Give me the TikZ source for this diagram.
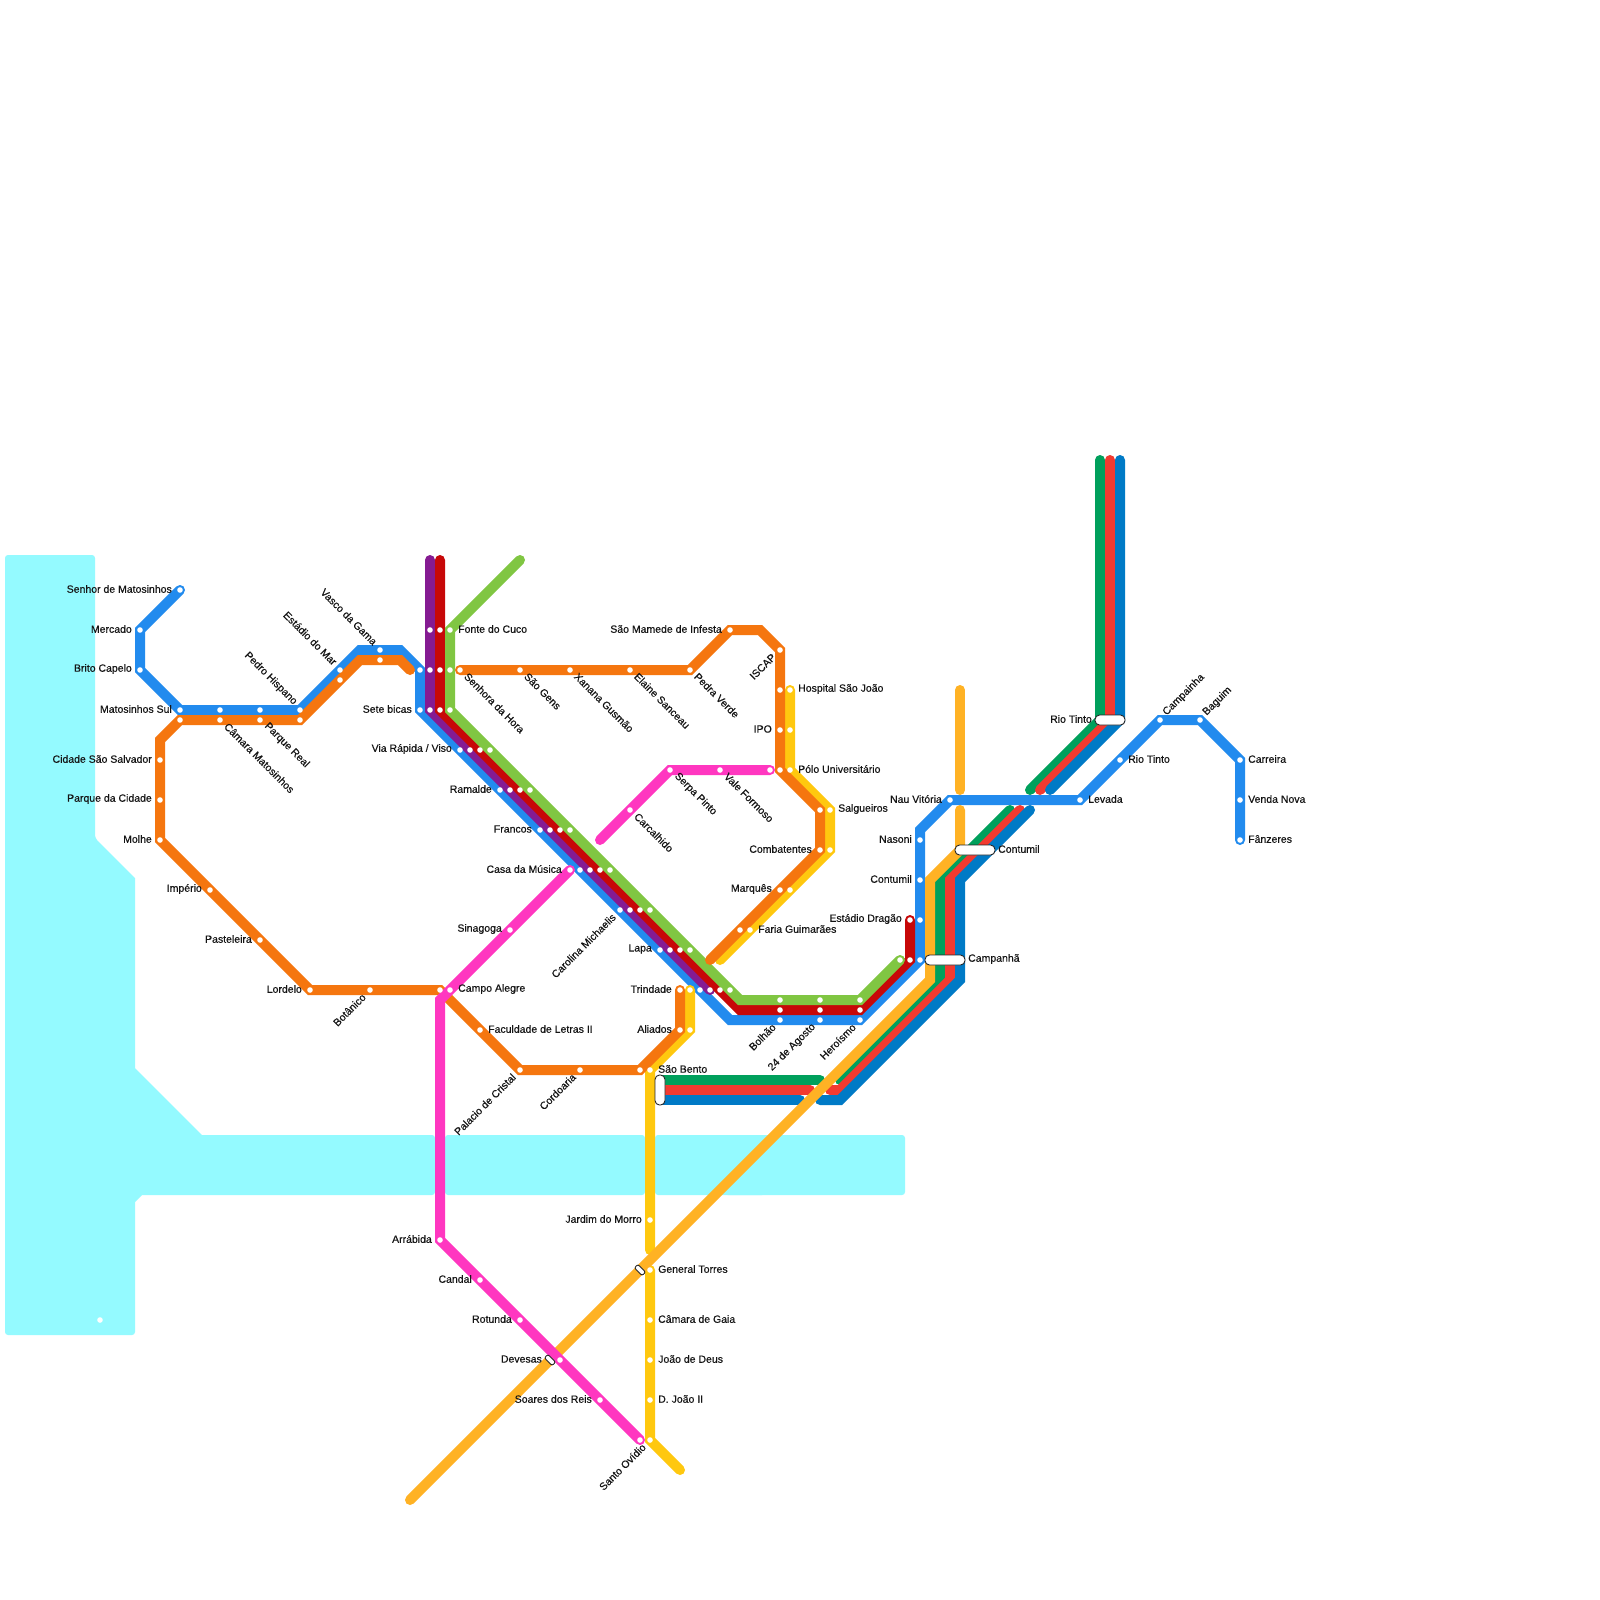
\documentclass[tikz,border=0pt]{standalone}
\usepackage{fontspec}
\setmainfont[FakeBold=0.4]{Liberation Sans}
\definecolor{cW}{HTML}{94FAFF}
\definecolor{cB}{HTML}{228BEE}
\definecolor{cO}{HTML}{F5760F}
\definecolor{cP}{HTML}{851B92}
\definecolor{cR}{HTML}{C70808}
\definecolor{cG}{HTML}{80C642}
\definecolor{cK}{HTML}{FF37C0}
\definecolor{cY}{HTML}{FFC80F}
\definecolor{cA}{HTML}{FFB224}
\definecolor{cDG}{HTML}{00A05C}
\definecolor{cDR}{HTML}{F33A30}
\definecolor{cDB}{HTML}{007AC6}
\tikzset{
  ln/.style={line width=10pt,line cap=round,line join=miter,miter limit=4},
  dot/.style={circle,fill=white,draw=none,inner sep=0pt,minimum size=5.6pt},
  lbl/.style={inner sep=0pt,font=\fontsize{10.5}{12}\selectfont,text=black!92},
  lL/.style={lbl,anchor=east,xshift=-8pt,yshift=1pt},
  lR/.style={lbl,anchor=west,xshift=8pt,yshift=1pt},
  lUL/.style={lbl,anchor=east,rotate=-45,xshift=-8pt,yshift=1.5pt},
  lDR/.style={lbl,anchor=west,rotate=-45,xshift=7.5pt,yshift=1pt},
  lDL/.style={lbl,anchor=east,rotate=45,xshift=-8pt,yshift=0.5pt},
  lUR/.style={lbl,anchor=west,rotate=45,xshift=7.5pt,yshift=1pt},
  caps/.style={draw=black!85,fill=white,line width=0.9pt,rectangle,inner sep=0pt,rounded corners=4.5pt},
  capsm/.style={draw=black!85,fill=white,line width=0.9pt,rectangle,inner sep=0pt,rounded corners=2pt,minimum width=11pt,minimum height=5pt,rotate=-45},
  water/.style={fill=cW,rounded corners=3pt}
}
\begin{document}
\begin{tikzpicture}[x=1pt,y=-1pt]
\useasboundingbox (0,0) rectangle (1600,1600);
\fill[white] (0,0) rectangle (1600,1600);
% water
\fill[water] (5,555) -- (95,555) -- (95,838) [sharp corners] -- (135,878) -- (135,1068) -- (202,1135) [rounded corners=3pt] -- (435,1135) -- (435,1195) [sharp corners] -- (142,1195) -- (135,1202) [rounded corners=3pt] -- (135,1335) -- (5,1335) -- cycle;
\fill[water] (445,1135) rectangle (645,1195);
\fill[water] (655,1135) rectangle (765,1195);
\fill[water] (725,1135) rectangle (905,1195);
% coordinates
\foreach \n/\x/\y in {
 bsen/180/590,bmer/140/630,bbri/140/670,bmat/180/710,bm2/220/710,bm3/260/710,bped/300/710,bmar/340/670,bk1/360/650,bvas/380/650,bk2/400/650,bu/420/670,bset/420/710,bvia/460/750,bram/500/790,bfra/540/830,bcas/580/870,bcar/620/910,blap/660/950,btri/700/990,bk3/730/1020,bbol/780/1020,bago/820/1020,bher/860/1020,bcam/920/960,bdra/920/920,bcon/920/880,bnas/920/840,bk4/920/830,bnau/950/800,blev/1080/800,brio/1120/760,bcpa/1160/720,bbag/1200/720,bcre/1240/760,bven/1240/800,bfan/1240/840,
 pt/430/560,pa/430/630,pb/430/670,pc/430/710,pd/470/750,pe/510/790,pf/550/830,pg/590/870,ph/630/910,pi/670/950,pj/710/990,
 rt/440/560,ra/440/630,rb/440/670,rc/440/710,rd/480/750,re/520/790,rf/560/830,rg/600/870,rh/640/910,ri/680/950,rj/720/990,rk/740/1010,rl/780/1010,rm/820/1010,rn/860/1010,ro/910/960,rq/910/920,
 gt/520/560,ga/450/630,gb/450/670,gc/450/710,gd/490/750,ge/530/790,gf/570/830,gg/610/870,gh/650/910,gi/690/950,gj/730/990,gk/740/1000,gl/780/1000,gm/820/1000,gn/860/1000,go/900/960,
 osk/410/670,ok2/400/660,ovas/380/660,ok1/360/660,omar/340/680,oped/300/720,om3/260/720,om2/220/720,omat/180/720,ok0/160/740,ocid/160/760,opar/160/800,omol/160/840,oimp/210/890,opas/260/940,olor/310/990,obot/370/990,ocam/440/990,ofac/480/1030,opal/520/1070,ocor/580/1070,oben/640/1070,oali/680/1030,otri/680/990,
 qsen/460/670,qgen/520/670,qxan/570/670,qela/630/670,qped/690/670,qmam/730/630,qk1/760/630,qisc/780/650,qa/780/690,qipo/780/730,qpol/780/770,qsal/820/810,qcom/820/850,qmar/780/890,qfar/740/930,qend/710/960,
 yhos/790/690,yipo/790/730,ypol/790/770,ysal/830/810,ycom/830/850,ymar/790/890,yfar/750/930,yend/720/960,
 ztri/690/990,zali/690/1030,zben/650/1070,zjar/650/1220,zst/650/1250,zgen/650/1270,zcam/650/1320,zjoa/650/1360,zdjo/650/1400,zovi/650/1440,zend/680/1470,
 kcam/450/990,ksin/510/930,kcas/570/870,kk/440/1000,karr/440/1240,kcan/480/1280,krot/520/1320,kdev/560/1360,ksoa/600/1400,kovi/640/1440,
 vend/600/840,vcar/630/810,vser/670/770,vval/720/770,vlast/770/770,
 as/410/1500,ak1/930/980,ak2/930/880,ak3/960/850,ak4/960/810,at1/960/690,at2/960/790,
 dgt/1100/460,dgk/1100/720,dge/1030/790,dgs/1010/810,dga/940/880,dgb/940/980,dgc/840/1080,dgl1/820/1080,dgl0/660/1080,
 drt/1110/460,drk/1110/720,dre/1040/790,drs/1020/810,dra/950/880,drb/950/980,drc/840/1090,drd/830/1090,drl1/810/1090,drl0/660/1090,
 dbt/1120/460,dbk/1120/720,dbe/1050/790,dbs/1030/810,dba/960/880,dbb/960/980,dbc/840/1100,dbd/820/1100,dbl1/800/1100,dbl0/660/1100,
 stray/100/1320,
 tcon/990/850,tcam/960/960,trio/1100/720,tben/650/1070,tgen/640/1270,tdev/550/1360}
 {\coordinate (\n) at (\x,\y);}
% lines
\draw[ln,cB] (bsen)--(bmer)--(bbri)--(bmat)--(bped)--(bk1)--(bk2)--(bu)--(bset)--(btri)--(bk3)--(bher)--(bcam)--(bk4)--(bnau)--(blev)--(bcpa)--(bbag)--(bcre)--(bfan);
\draw[ln,cP] (pt)--(pc)--(pj);
\draw[ln,cR] (rt)--(rc)--(rk)--(rn)--(ro)--(rq);
\draw[ln,cG] (gt)--(ga)--(gc)--(gk)--(gn)--(go);
\draw[ln,cDG] (dgt)--(dgk)--(dge);
\draw[ln,cDG] (dgs)--(dga)--(dgb)--(dgc);
\draw[ln,cDG] (dgl0)--(dgl1);
\draw[ln,cDR] (drt)--(drk)--(dre);
\draw[ln,cDR] (drs)--(dra)--(drb)--(drc)--(drd);
\draw[ln,cDR] (drl0)--(drl1);
\draw[ln,cDB] (dbt)--(dbk)--(dbe);
\draw[ln,cDB] (dbs)--(dba)--(dbb)--(dbc)--(dbd);
\draw[ln,cDB] (dbl0)--(dbl1);
\draw[ln,cY] (yhos)--(ypol)--(ysal)--(ycom)--(yend);
\draw[ln,cY] (ztri)--(zali)--(zben)--(zst);
\draw[ln,cY] (zgen)--(zovi)--(zend);
\draw[ln,cA] (as)--(ak1)--(ak2)--(ak3)--(ak4);
\draw[ln,cA] (at1)--(at2);
\draw[ln,cO] (osk)--(ok2)--(ok1)--(oped)--(omat)--(ok0)--(omol)--(olor)--(ocam)--(opal)--(oben)--(oali)--(otri);
\draw[ln,cO] (qsen)--(qped)--(qmam)--(qk1)--(qisc)--(qpol)--(qsal)--(qcom)--(qend);
\draw[ln,cK] (kcas)--(kcam)--(kk)--(karr)--(kovi);
\draw[ln,cK] (vend)--(vser)--(vlast);
% interchanges
\node[caps,minimum width=10pt,minimum height=30pt] (xben) at (660,1090) {};
\node[caps,minimum width=40pt,minimum height=10pt] (xcam) at (945,960) {};
\node[caps,minimum width=40pt,minimum height=10pt] (xcon) at (975,850) {};
\node[caps,minimum width=30pt,minimum height=10pt] (xrio) at (1110,720) {};
\node[capsm] (xgen) at (tgen) {};
\node[capsm] (xdev) at (tdev) {};
% station dots
\foreach \n in {bsen,bmer,bbri,bmat,bm2,bm3,bped,bmar,bvas,bu,bset,bvia,bram,bfra,bcas,bcar,blap,btri,bbol,bago,bher,bcam,bdra,bcon,bnas,bnau,blev,brio,bcpa,bbag,bcre,bven,bfan,
 pa,pb,pc,pd,pe,pf,pg,ph,pi,pj,ra,rb,rc,rd,re,rf,rg,rh,ri,rj,rl,rm,rn,ro,rq,ga,gb,gc,gd,ge,gf,gg,gh,gi,gj,gl,gm,gn,go,
 ovas,omar,oped,om3,om2,omat,ocid,opar,omol,oimp,opas,olor,obot,ocam,ofac,opal,ocor,oben,oali,otri,
 qsen,qgen,qxan,qela,qped,qmam,qisc,qa,qipo,qpol,qsal,qcom,qmar,qfar,
 yhos,yipo,ypol,ysal,ycom,ymar,yfar,ztri,zali,zben,zjar,zgen,zcam,zjoa,zdjo,zovi,
 kcam,ksin,kcas,karr,kcan,krot,kdev,ksoa,kovi,vcar,vser,vval,vlast,stray}
 {\node[dot] (s\n) at (\n) {};}
% labels
\foreach \n/\t in {bsen/Senhor de Matosinhos,bmer/Mercado,bbri/Brito Capelo,bmat/Matosinhos Sul,bset/Sete bicas,bvia/Via Rápida {/} Viso,bram/Ramalde,bfra/Francos,kcas/Casa da Música,blap/Lapa,otri/Trindade,oali/Aliados,ksin/Sinagoga,ocid/Cidade São Salvador,opar/Parque da Cidade,omol/Molhe,oimp/Império,opas/Pasteleira,olor/Lordelo,qmam/São Mamede de Infesta,qipo/IPO,qcom/Combatentes,qmar/Marquês,rq/Estádio Dragão,bnas/Nasoni,bcon/Contumil,bnau/Nau Vitória,trio/Rio Tinto,zjar/Jardim do Morro,karr/Arrábida,kcan/Candal,krot/Rotunda,tdev/Devesas,ksoa/Soares dos Reis}
 {\node[lL] (l\n) at (\n) {\t};}
\foreach \n/\t in {ga/Fonte do Cuco,kcam/Campo Alegre,ofac/Faculdade de Letras II,zben/São Bento,zgen/General Torres,zcam/Câmara de Gaia,zjoa/João de Deus,zdjo/D. João II,yhos/Hospital São João,ypol/Pólo Universitário,ysal/Salgueiros,yfar/Faria Guimarães,tcon/Contumil,tcam/Campanhã,blev/Levada,brio/Rio Tinto,bcre/Carreira,bven/Venda Nova,bfan/Fânzeres}
 {\node[lR] (l\n) at (\n) {\t};}
\foreach \n/\t in {bvas/Vasco da Gama,bmar/Estádio do Mar,bped/Pedro Hispano}
 {\node[lUL] (l\n) at (\n) {\t};}
\foreach \n/\t in {om2/Câmara Matosinhos,om3/Parque Real,qsen/Senhora da Hora,qgen/São Gens,qxan/Xanana Gusmão,qela/Elaine Sanceau,qped/Pedra Verde,vser/Serpa Pinto,vval/Vale Formoso,vcar/Carcalhido}
 {\node[lDR] (l\n) at (\n) {\t};}
\foreach \n/\t in {obot/Botânico,opal/Palacio de Cristal,ocor/Cordoaria,bcar/Carolina Michaelis,qisc/ISCAP,bbol/Bolhão,bago/24 de Agosto,bher/Heroísmo,zovi/Santo Ovídio}
 {\node[lDL] (l\n) at (\n) {\t};}
\foreach \n/\t in {bcpa/Campainha,bbag/Baguim}
 {\node[lUR] (l\n) at (\n) {\t};}
\end{tikzpicture}
\end{document}
